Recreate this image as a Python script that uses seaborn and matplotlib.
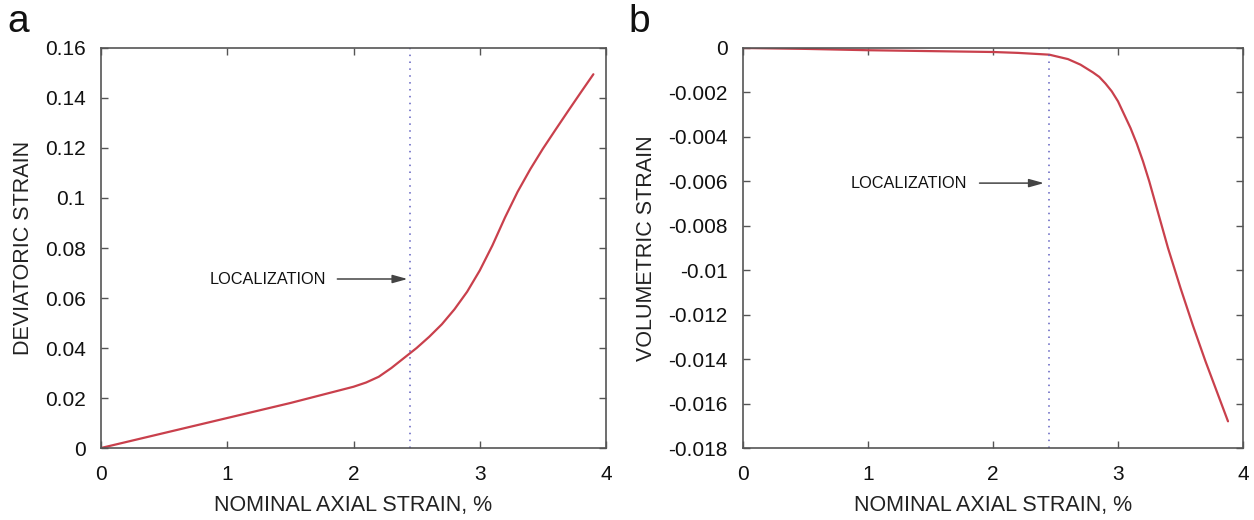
import numpy as np
import pandas as pd
import matplotlib
matplotlib.use("Agg")
import matplotlib.pyplot as plt
import seaborn as sns

# Panel a: deviatoric strain vs nominal axial strain
axial_a = [0.0, 0.5, 1.0, 1.5, 2.0, 2.1, 2.2, 2.3, 2.4, 2.5, 2.6, 2.7, 2.8, 2.9, 3.0,
           3.1, 3.2, 3.3, 3.4, 3.5, 3.6, 3.7, 3.8, 3.9]
deviatoric = [0.0, 0.006, 0.012, 0.018, 0.0245, 0.0262, 0.0285, 0.032, 0.036, 0.040, 0.0445,
              0.0495, 0.0555, 0.0625, 0.071, 0.081, 0.0922, 0.1025, 0.1115, 0.1197, 0.1273,
              0.1348, 0.1422, 0.1495]

# Panel b: volumetric strain vs nominal axial strain
axial_b = [0.0, 0.5, 1.0, 1.5, 2.0, 2.2, 2.45, 2.6, 2.7, 2.8, 2.85, 2.9, 2.95, 3.0, 3.05,
           3.1, 3.15, 3.2, 3.25, 3.3, 3.35, 3.4, 3.45, 3.5, 3.6, 3.7, 3.8, 3.88]
volumetric = [0.0, -0.00004, -0.0001, -0.00014, -0.00018, -0.00022, -0.0003, -0.0005,
              -0.00075, -0.0011, -0.0013, -0.0016, -0.00195, -0.0024, -0.0030, -0.0036,
              -0.0043, -0.0051, -0.0060, -0.0070, -0.0080, -0.0090, -0.0099, -0.0108,
              -0.0125, -0.0141, -0.0156, -0.0168]

localization_x = 2.45
xticks = [0, 1, 2, 3, 4]
yticks_a = [0, 0.02, 0.04, 0.06, 0.08, 0.1, 0.12, 0.14, 0.16]
yticklabels_a = ["0", "0.02", "0.04", "0.06", "0.08", "0.1", "0.12", "0.14", "0.16"]
yticks_b = [0, -0.002, -0.004, -0.006, -0.008, -0.01, -0.012, -0.014, -0.016, -0.018]
yticklabels_b = ["0", "-0.002", "-0.004", "-0.006", "-0.008", "-0.01", "-0.012", "-0.014", "-0.016", "-0.018"]

sns.set_style("white")
plt.rcParams['font.family'] = ['Liberation Sans', 'DejaVu Sans']

red = "#c9404c"
spine_c = "#555555"

fig = plt.figure(figsize=(12.54, 5.2), dpi=100)
ax1 = fig.add_axes([101/1254, 72/520, 505/1254, 400/520])
ax2 = fig.add_axes([743/1254, 72/520, 500/1254, 400/520])

df_a = pd.DataFrame({"x": axial_a, "y": deviatoric})
df_b = pd.DataFrame({"x": axial_b, "y": volumetric})
sns.lineplot(data=df_a, x="x", y="y", ax=ax1, color=red, lw=1.6)
sns.lineplot(data=df_b, x="x", y="y", ax=ax2, color=red, lw=1.6)

for ax in (ax1, ax2):
    ax.axvline(localization_x, color="#6060c0", ls=(0, (1, 3.5)), lw=1.1)
    ax.set_xlim(0, 4)
    ax.set_xticks(xticks)
    ax.set_xticklabels([str(t) for t in xticks])
    ax.set_xlabel("NOMINAL AXIAL STRAIN, %", fontsize=15.5, color="#222222", labelpad=8)
    for s in ax.spines.values():
        s.set_visible(True)
        s.set_color(spine_c)
        s.set_linewidth(1.2)
    ax.tick_params(direction="in", length=5, width=1, color=spine_c, labelsize=15,
                   top=True, right=True, bottom=True, left=True, labelcolor="#111111")
    ax.tick_params(axis="y", pad=11)
    ax.tick_params(axis="x", pad=12)

ax1.set_ylim(0, 0.16)
ax1.set_yticks(yticks_a)
ax1.set_yticklabels(yticklabels_a)
ax1.set_ylabel("DEVIATORIC STRAIN", fontsize=15.5, color="#222222", labelpad=8)

ax2.set_ylim(-0.018, 0)
ax2.set_yticks(yticks_b)
ax2.set_yticklabels(yticklabels_b)
ax2.set_ylabel("VOLUMETRIC STRAIN", fontsize=15.5, color="#222222", labelpad=8)

arrow = dict(arrowstyle="-|>,head_length=0.9,head_width=0.25", color="#444444", lw=1.1)
ax1.annotate("", xy=(localization_x, 0.0676), xytext=(1.85, 0.0676), arrowprops=arrow)
ax1.text(0.86, 0.0676, "LOCALIZATION", fontsize=11.7, va="center", ha="left", color="#111111")
ax2.annotate("", xy=(2.43, -0.00608), xytext=(1.87, -0.00608), arrowprops=arrow)
ax2.text(0.86, -0.00608, "LOCALIZATION", fontsize=11.7, va="center", ha="left", color="#111111")

fig.text(7/1254, 1 - 32/520, "a", fontsize=28, va="baseline", ha="left", color="#111111")
fig.text(628/1254, 1 - 32/520, "b", fontsize=28, va="baseline", ha="left", color="#111111")

fig.savefig("out.png", dpi=100)
